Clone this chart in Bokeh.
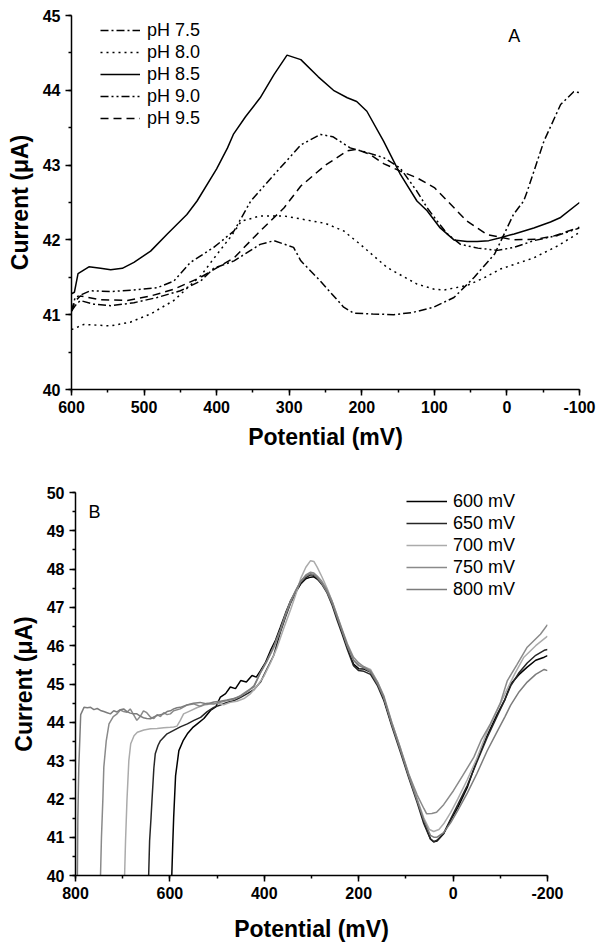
from bokeh.plotting import figure
from bokeh.models import (Range1d, SingleIntervalTicker, Legend, LegendItem, Label, PrintfTickFormatter)
from bokeh.embed import file_html
from bokeh.resources import INLINE

# ---------------- Panel A data ----------------
a_labels = ["pH 7.5", "pH 8.0", "pH 8.5", "pH 9.0", "pH 9.5"]

a_x_75 = [600, 595, 588, 569, 546, 514, 482, 450, 422, 404, 376, 340, 321, 294, 284, 257, 225, 211, 185, 156, 130, 101, 73, 45, 17, -9, -23, -28, -51, -74, -92, -100]
a_y_75 = [41.05, 41.12, 41.19, 41.14, 41.12, 41.16, 41.23, 41.32, 41.45, 41.62, 41.72, 41.94, 41.99, 41.90, 41.72, 41.45, 41.10, 41.02, 41.01, 41.00, 41.03, 41.10, 41.23, 41.50, 41.81, 42.34, 42.52, 42.65, 43.32, 43.81, 43.98, 43.97]

a_x_80 = [600, 583, 546, 519, 491, 459, 440, 422, 400, 380, 366, 340, 307, 284, 250, 225, 202, 165, 124, 100, 87, 55, 30, 9, -37, -70, -100]
a_y_80 = [40.80, 40.87, 40.85, 40.90, 41.01, 41.19, 41.36, 41.52, 41.80, 42.05, 42.25, 42.32, 42.32, 42.28, 42.22, 42.12, 41.94, 41.63, 41.41, 41.34, 41.33, 41.39, 41.50, 41.61, 41.76, 41.92, 42.10]

a_x_85 = [600, 596, 591, 576, 560, 546, 530, 514, 491, 468, 441, 427, 400, 385, 377, 360, 340, 321, 303, 284, 260, 239, 220, 207, 193, 170, 147, 124, 110, 92, 73, 55, 41, 25, 9, -10, -37, -60, -74, -100]
a_y_85 = [41.28, 41.30, 41.55, 41.64, 41.62, 41.60, 41.62, 41.70, 41.85, 42.08, 42.34, 42.52, 42.95, 43.23, 43.41, 43.65, 43.90, 44.21, 44.47, 44.41, 44.18, 44.00, 43.90, 43.85, 43.72, 43.32, 42.88, 42.52, 42.39, 42.16, 42.00, 41.98, 41.98, 41.99, 42.03, 42.08, 42.16, 42.24, 42.30, 42.50]

a_x_90 = [600, 595, 574, 546, 514, 482, 459, 436, 404, 376, 353, 320, 284, 257, 240, 216, 190, 170, 147, 124, 110, 96, 82, 64, 40, 13, -10, -37, -70, -100]
a_y_90 = [41.05, 41.23, 41.32, 41.31, 41.33, 41.36, 41.45, 41.70, 41.90, 42.12, 42.52, 42.88, 43.27, 43.41, 43.38, 43.23, 43.16, 43.10, 42.96, 42.65, 42.43, 42.25, 42.08, 41.94, 41.89, 41.86, 41.90, 41.99, 42.06, 42.16]

a_x_95 = [600, 595, 588, 560, 523, 491, 459, 422, 376, 344, 307, 284, 250, 220, 207, 190, 170, 147, 124, 100, 82, 55, 27, -9, -40, -64, -100]
a_y_95 = [41.05, 41.18, 41.25, 41.20, 41.19, 41.25, 41.34, 41.50, 41.76, 42.08, 42.43, 42.72, 43.00, 43.19, 43.21, 43.15, 43.02, 42.92, 42.83, 42.70, 42.52, 42.25, 42.07, 42.00, 42.01, 42.05, 42.17]

a_xticks_interval = 100
a_yticks_interval = 1

# ---------------- Panel B data ----------------
b_labels = ["600 mV", "650 mV", "700 mV", "750 mV", "800 mV"]

b_x_600 = [596, 594, 592, 588, 581, 572, 563, 552, 542, 528, 514, 503, 493, 482, 472, 461, 450, 438, 426, 417, 408, 398, 387, 376, 366, 355, 344, 333, 323, 312, 302, 295, 288, 278, 267, 256, 246, 235, 224, 211, 200, 189, 175, 160, 147, 130, 111, 94, 76, 62, 48, 41, 34, 20, 5, -10, -30, -50, -72, -93, -110, -122, -140, -157, -175, -193, -200]
b_y_600 = [40.0, 40.8, 41.52, 42.6, 43.26, 43.52, 43.70, 43.86, 43.96, 44.10, 44.31, 44.40, 44.66, 44.75, 44.92, 44.88, 45.09, 45.05, 45.22, 45.18, 45.35, 45.55, 45.87, 46.15, 46.48, 46.85, 47.18, 47.42, 47.61, 47.75, 47.79, 47.80, 47.74, 47.62, 47.44, 47.12, 46.74, 46.35, 45.96, 45.52, 45.40, 45.39, 45.31, 45.00, 44.62, 43.95, 43.26, 42.60, 41.96, 41.40, 40.96, 40.88, 40.90, 41.09, 41.45, 41.78, 42.30, 43.00, 43.65, 44.20, 44.60, 45.00, 45.25, 45.44, 45.62, 45.70, 45.74]

b_x_650 = [645, 643, 640, 638, 634, 631, 625, 620, 606, 592, 578, 563, 549, 535, 521, 507, 493, 479, 465, 450, 436, 422, 408, 394, 380, 366, 355, 344, 333, 323, 312, 302, 295, 288, 278, 267, 256, 246, 235, 224, 211, 200, 189, 175, 160, 147, 130, 111, 94, 76, 62, 48, 41, 34, 20, 5, -10, -30, -50, -72, -93, -110, -122, -140, -157, -175, -193, -200]
b_y_650 = [40.0, 40.9, 41.5, 41.96, 42.8, 43.18, 43.40, 43.52, 43.70, 43.79, 43.88, 43.96, 44.05, 44.13, 44.28, 44.39, 44.45, 44.52, 44.56, 44.65, 44.75, 44.85, 45.05, 45.40, 45.75, 46.35, 46.75, 47.12, 47.40, 47.62, 47.78, 47.85, 47.84, 47.76, 47.60, 47.38, 47.05, 46.68, 46.30, 45.90, 45.48, 45.35, 45.33, 45.25, 44.95, 44.58, 43.90, 43.20, 42.55, 41.90, 41.35, 40.95, 40.88, 40.92, 41.10, 41.48, 41.85, 42.35, 42.95, 43.60, 44.15, 44.60, 44.95, 45.30, 45.55, 45.75, 45.88, 45.90]

b_x_700 = [696, 694, 691, 687, 683, 676, 669, 655, 641, 627, 613, 599, 592, 585, 578, 571, 557, 543, 528, 514, 500, 486, 472, 458, 443, 429, 415, 401, 387, 373, 359, 344, 333, 323, 312, 302, 295, 288, 278, 267, 256, 246, 235, 224, 211, 200, 189, 175, 160, 147, 130, 111, 94, 76, 62, 50, 41, 30, 20, 5, -10, -30, -50, -72, -93, -110, -130, -150, -175, -200]
b_y_700 = [40.0, 40.9, 41.96, 43.0, 43.44, 43.65, 43.74, 43.80, 43.83, 43.84, 43.86, 43.87, 43.88, 43.90, 44.05, 44.22, 44.30, 44.38, 44.45, 44.48, 44.50, 44.46, 44.52, 44.55, 44.62, 44.75, 44.95, 45.20, 45.55, 45.95, 46.45, 46.95, 47.35, 47.75, 48.05, 48.22, 48.20, 48.05, 47.80, 47.50, 47.15, 46.80, 46.40, 46.00, 45.62, 45.50, 45.45, 45.38, 45.05, 44.66, 44.00, 43.30, 42.65, 42.00, 41.50, 41.20, 41.15, 41.20, 41.35, 41.65, 42.00, 42.50, 43.05, 43.75, 44.30, 44.75, 45.25, 45.70, 46.00, 46.25]

b_x_750 = [747, 745, 742, 740, 735, 729, 720, 712, 705, 698, 691, 684, 677, 670, 663, 656, 649, 641, 634, 627, 620, 613, 606, 599, 592, 578, 564, 550, 536, 521, 507, 493, 479, 465, 450, 436, 422, 408, 394, 380, 366, 355, 344, 333, 323, 312, 302, 295, 288, 278, 267, 256, 246, 235, 224, 211, 200, 189, 175, 160, 147, 130, 111, 94, 76, 62, 56, 45, 35, 20, -1, -20, -44, -60, -79, -100, -115, -135, -157, -185, -200]
b_y_750 = [40.0, 41.0, 42.0, 42.83, 43.5, 43.96, 44.15, 44.22, 44.32, 44.28, 44.26, 44.35, 44.20, 44.05, 44.15, 44.30, 44.25, 44.13, 44.10, 44.20, 44.15, 44.25, 44.20, 44.22, 44.30, 44.35, 44.45, 44.48, 44.42, 44.50, 44.48, 44.52, 44.57, 44.60, 44.70, 44.82, 44.92, 45.30, 45.60, 45.95, 46.40, 46.80, 47.15, 47.45, 47.68, 47.85, 47.92, 47.90, 47.82, 47.68, 47.45, 47.15, 46.80, 46.42, 46.05, 45.70, 45.55, 45.45, 45.35, 45.05, 44.70, 44.00, 43.30, 42.65, 42.10, 41.75, 41.61, 41.62, 41.65, 41.85, 42.22, 42.60, 43.09, 43.55, 43.96, 44.50, 45.09, 45.50, 45.96, 46.30, 46.55]

b_x_800 = [796, 795, 793, 789, 782, 775, 768, 761, 754, 747, 740, 733, 726, 719, 712, 705, 698, 691, 684, 677, 670, 663, 656, 649, 641, 634, 627, 620, 613, 606, 599, 592, 585, 578, 564, 550, 536, 521, 507, 493, 479, 465, 450, 436, 422, 408, 394, 380, 366, 355, 344, 333, 323, 312, 302, 295, 288, 278, 267, 256, 246, 235, 224, 211, 200, 189, 175, 160, 147, 130, 111, 94, 76, 62, 48, 41, 34, 20, 5, -10, -30, -50, -72, -93, -110, -122, -140, -157, -175, -193, -200]
b_y_800 = [40.0, 41.5, 42.83, 44.2, 44.39, 44.38, 44.39, 44.33, 44.36, 44.31, 44.28, 44.25, 44.22, 44.30, 44.27, 44.33, 44.35, 44.28, 44.24, 44.22, 44.22, 44.16, 44.12, 44.10, 44.09, 44.14, 44.18, 44.20, 44.22, 44.28, 44.30, 44.35, 44.38, 44.39, 44.45, 44.50, 44.52, 44.48, 44.53, 44.55, 44.58, 44.62, 44.68, 44.80, 44.95, 45.30, 45.62, 45.98, 46.42, 46.82, 47.18, 47.45, 47.68, 47.82, 47.88, 47.86, 47.78, 47.62, 47.40, 47.10, 46.75, 46.38, 46.00, 45.62, 45.48, 45.42, 45.32, 45.00, 44.65, 43.95, 43.25, 42.60, 41.95, 41.45, 41.05, 41.00, 41.00, 41.12, 41.38, 41.70, 42.15, 42.65, 43.25, 43.75, 44.15, 44.45, 44.80, 45.05, 45.25, 45.38, 45.35]

b_colors = ["#000000", "#262626", "#ababab", "#8a8a8a", "#7c7c7c"]

FONT = "Liberation Sans"


def style_axes(p, xint, yint, label_size, x_standoff):
    p.xaxis.ticker = SingleIntervalTicker(interval=xint, num_minor_ticks=2)
    p.yaxis.ticker = SingleIntervalTicker(interval=yint, num_minor_ticks=2)
    p.xaxis.formatter = PrintfTickFormatter(format="%d")
    p.yaxis.formatter = PrintfTickFormatter(format="%d")
    for ax in (p.xaxis[0], p.yaxis[0]):
        ax.axis_line_width = 1.5
        ax.major_tick_line_width = 1.5
        ax.minor_tick_line_width = 1.5
        ax.major_tick_in = 0
        ax.major_tick_out = 6
        ax.minor_tick_in = 0
        ax.minor_tick_out = 3
        ax.major_label_text_font = FONT
        ax.major_label_text_font_style = "bold"
        ax.major_label_text_font_size = "16px"
        ax.major_label_text_color = "#000000"
        ax.axis_label_text_font = FONT
        ax.axis_label_text_font_style = "bold"
        ax.axis_label_text_font_size = label_size
        ax.axis_label_text_color = "#000000"
    p.xaxis[0].axis_label_standoff = x_standoff
    p.yaxis[0].axis_label_standoff = 7
    p.xgrid.visible = False
    p.ygrid.visible = False
    p.outline_line_color = None


# ---------------- Figure A ----------------
pA = figure(width=600, height=468, x_range=Range1d(600, -100), y_range=Range1d(40, 45),
            output_backend="svg", toolbar_location=None,
            min_border_left=71, min_border_right=21, min_border_top=15, min_border_bottom=79,
            x_axis_label="Potential (mV)", y_axis_label="Current (\u03bcA)")
style_axes(pA, a_xticks_interval, a_yticks_interval, "23px", 8)

a_series = [(a_x_75, a_y_75, "8 3 2 3"), (a_x_80, a_y_80, "2 4"), (a_x_85, a_y_85, "solid"),
            (a_x_90, a_y_90, "8 3 2 3 2 3"), (a_x_95, a_y_95, "8 5")]
a_items = []
for lab, (xs, ys, dash) in zip(a_labels, a_series):
    r = pA.line(xs, ys, line_color="black", line_width=1.5, line_dash=dash)
    a_items.append(LegendItem(label=lab, renderers=[r]))

legA = Legend(items=a_items, location=(29, 260), border_line_color=None, background_fill_alpha=0,
              padding=0, spacing=0, margin=0, glyph_height=22, glyph_width=40, label_height=22,
              label_standoff=7, label_text_font=FONT, label_text_font_size="18px",
              label_text_color="#000000")
pA.add_layout(legA)
pA.add_layout(Label(x=-10, y=44.72, text="A", text_align="center", text_baseline="middle",
                    text_font=FONT, text_font_size="18px", text_color="#000000"))

# ---------------- Figure B ----------------
pB = figure(width=600, height=478, x_range=Range1d(800, -200), y_range=Range1d(40, 50),
            output_backend="svg", toolbar_location=None,
            min_border_left=75, min_border_right=53, min_border_top=24, min_border_bottom=71,
            x_axis_label="Potential (mV)", y_axis_label="Current (\u03bcA)")
style_axes(pB, 200, 1, "23px", 14)

b_series = [(b_x_600, b_y_600), (b_x_650, b_y_650), (b_x_700, b_y_700), (b_x_750, b_y_750), (b_x_800, b_y_800)]
b_items = []
for lab, col, (xs, ys) in zip(b_labels, b_colors, b_series):
    r = pB.line(xs, ys, line_color=col, line_width=1.5)
    b_items.append(LegendItem(label=lab, renderers=[r]))

legB = Legend(items=b_items, location=(331, 275), border_line_color=None, background_fill_alpha=0,
              padding=0, spacing=0, margin=0, glyph_height=22, glyph_width=41, label_height=22,
              label_standoff=6, label_text_font=FONT, label_text_font_size="18px",
              label_text_color="#000000")
pB.add_layout(legB)
pB.add_layout(Label(x=760, y=49.5, text="B", text_align="center", text_baseline="middle",
                    text_font=FONT, text_font_size="18px", text_color="#000000"))

open("out.html", "w").write(file_html([pA, pB], INLINE))
